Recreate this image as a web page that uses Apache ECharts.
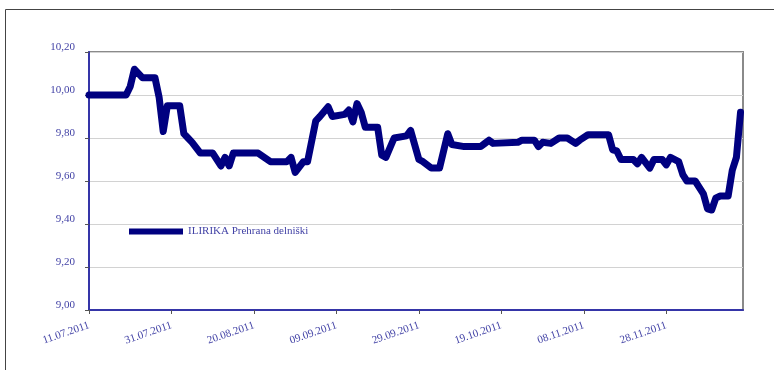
<!DOCTYPE html>
<html>
<head>
<meta charset="utf-8">
<script src="https://cdn.jsdelivr.net/npm/echarts@6/dist/echarts.min.js"></script>
<style>
  html, body { margin: 0; padding: 0; background: #fff; }
  #chart { width: 774px; height: 370px; }
</style>
</head>
<body>
<div id="chart"></div>
<script>
// ILIRIKA Prehrana delniški - vrednost enote
var seriesName = 'ILIRIKA Prehrana delniški'
var dates = [
  '2011-07-11', '2011-07-20', '2011-07-21', '2011-07-22', '2011-07-24', '2011-07-27', '2011-07-28', '2011-07-29',
  '2011-07-30', '2011-08-02', '2011-08-03', '2011-08-04', '2011-08-05', '2011-08-07', '2011-08-10', '2011-08-12',
  '2011-08-13', '2011-08-14', '2011-08-15', '2011-08-21', '2011-08-24', '2011-08-28', '2011-08-29', '2011-08-30',
  '2011-09-01', '2011-09-02', '2011-09-04', '2011-09-05', '2011-09-07', '2011-09-08', '2011-09-11', '2011-09-12',
  '2011-09-13', '2011-09-14', '2011-09-15', '2011-09-16', '2011-09-19', '2011-09-20', '2011-09-21', '2011-09-23',
  '2011-09-26', '2011-09-27', '2011-09-29', '2011-09-30', '2011-10-02', '2011-10-04', '2011-10-06', '2011-10-07',
  '2011-10-10', '2011-10-14', '2011-10-15', '2011-10-16', '2011-10-17', '2011-10-23', '2011-10-24', '2011-10-27',
  '2011-10-28', '2011-10-29', '2011-10-31', '2011-11-02', '2011-11-04', '2011-11-06', '2011-11-07', '2011-11-09',
  '2011-11-14', '2011-11-15', '2011-11-16', '2011-11-17', '2011-11-20', '2011-11-21', '2011-11-22', '2011-11-24',
  '2011-11-25', '2011-11-27', '2011-11-28', '2011-11-29', '2011-12-01', '2011-12-02', '2011-12-03', '2011-12-05',
  '2011-12-07', '2011-12-08', '2011-12-09', '2011-12-10', '2011-12-11', '2011-12-13', '2011-12-14', '2011-12-15',
  '2011-12-16'
]
var prices = [
  10.00, 10.00, 10.04, 10.12, 10.08, 10.08, 9.99, 9.83,
  9.95, 9.95, 9.82, 9.80, 9.78, 9.73, 9.73, 9.67,
  9.71, 9.67, 9.73, 9.73, 9.69, 9.69, 9.71, 9.64,
  9.69, 9.69, 9.88, 9.90, 9.945, 9.90, 9.91, 9.93,
  9.875, 9.96, 9.92, 9.85, 9.85, 9.72, 9.71, 9.80,
  9.81, 9.835, 9.70, 9.69, 9.66, 9.66, 9.82, 9.77,
  9.76, 9.76, 9.775, 9.79, 9.775, 9.78, 9.79, 9.79,
  9.76, 9.78, 9.775, 9.80, 9.80, 9.775, 9.79, 9.815,
  9.815, 9.745, 9.74, 9.70, 9.70, 9.68, 9.71, 9.66,
  9.70, 9.70, 9.675, 9.71, 9.69, 9.63, 9.60, 9.60,
  9.54, 9.47, 9.465, 9.52, 9.53, 9.53, 9.65, 9.71,
  9.92
]
var tickLabels = ['11.07.2011', '31.07.2011', '20.08.2011', '09.09.2011', '29.09.2011', '19.10.2011', '08.11.2011', '28.11.2011']

var startDate = Date.UTC(2011, 6, 11)
var dayMs = 86400000
function dayOf (s) {
  var p = s.split('-')
  return (Date.UTC(+p[0], +p[1] - 1, +p[2]) - startDate) / dayMs
}
var points = dates.map(function (d, i) { return [dayOf(d), prices[i]] })

var textColor = '#4343a6'
var serif = '"Liberation Serif", "DejaVu Serif", serif'

var chart = echarts.init(document.getElementById('chart'))
chart.setOption({
  animation: false,
  backgroundColor: '#fff',
  graphic: [
    {
      type: 'rect',
      shape: { x: 5.5, y: 9.5, width: 900, height: 500 },
      style: { fill: 'none', stroke: '#444', lineWidth: 1 },
      silent: true
    }
  ],
  grid: {
    left: 89, top: 52, right: 31, bottom: 60,
    show: true,
    borderColor: '#8a8a8a',
    borderWidth: 2
  },
  legend: {
    left: 124,
    top: 221,
    icon: 'rect',
    itemWidth: 54,
    itemHeight: 6,
    itemGap: 6,
    textStyle: { color: textColor, fontFamily: serif, fontSize: 11 },
    data: [seriesName]
  },
  xAxis: {
    type: 'value',
    min: 0,
    max: 158.6,
    interval: 20,
    splitLine: { show: false },
    axisLine: { show: true, lineStyle: { color: '#3535a8', width: 2 } },
    axisTick: { show: true, length: 4, lineStyle: { color: '#555' } },
    axisLabel: {
      rotate: 19,
      margin: 15,
      showMaxLabel: false,
      color: textColor,
      fontFamily: serif,
      fontSize: 11,
      formatter: function (v) { return tickLabels[Math.round(v / 20)] || '' }
    }
  },
  yAxis: {
    type: 'value',
    min: 9,
    max: 10.2,
    interval: 0.2,
    splitLine: { show: true, lineStyle: { color: '#d2d2d2', width: 1 } },
    axisLine: { show: true, lineStyle: { color: '#3535a8', width: 2 } },
    axisTick: { show: true, length: 4, lineStyle: { color: '#555' } },
    axisLabel: {
      margin: 14,
      color: textColor,
      fontFamily: serif,
      fontSize: 11,
      verticalAlign: 'bottom',
      lineHeight: 9,
      formatter: function (v) { return v.toFixed(2).replace('.', ',') }
    }
  },
  series: [
    {
      name: seriesName,
      type: 'line',
      data: points,
      showSymbol: false,
      symbol: 'none',
      itemStyle: { color: '#000080' },
      lineStyle: { color: '#000080', width: 7, join: 'round', cap: 'round' }
    }
  ]
})
</script>
</body>
</html>
